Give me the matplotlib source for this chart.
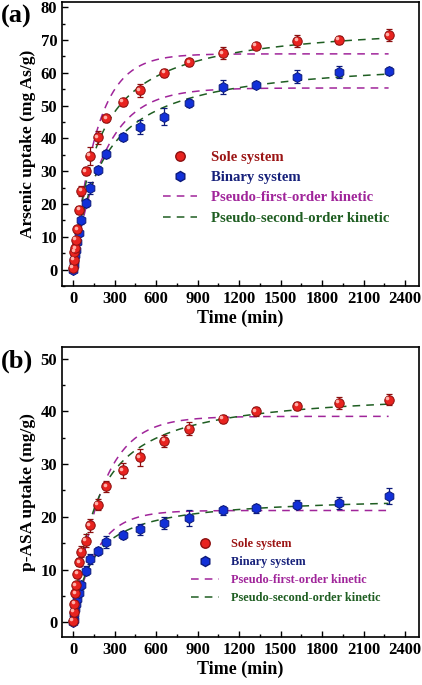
import numpy as np
import matplotlib
matplotlib.use("Agg")
import matplotlib.pyplot as plt
from matplotlib.lines import Line2D
from matplotlib.ticker import MultipleLocator, AutoMinorLocator
import matplotlib.transforms as mtransforms

plt.rcParams['font.family'] = ['Liberation Serif', 'DejaVu Serif']
plt.rcParams['font.weight'] = 'bold'

# sampling times (min)
time_min = [0, 5, 10, 15, 20, 30, 45, 60, 90, 120, 180, 240, 360, 480, 660, 840,
            1080, 1320, 1620, 1920, 2280]

# (a) arsenic uptake (mg As/g)
as_sole = [0.5, 3.0, 5.4, 6.5, 9.0, 12.3, 18.3, 24.0, 30.0, 34.6, 40.3, 46.1, 51.1,
           54.7, 60.0, 63.2, 66.0, 68.2, 69.8, 70.0, 71.5]
as_sole_err = [0.5, 0.6, 0.8, 0.8, 1.0, 1.0, 1.2, 1.5, 1.2, 2.8, 2.0, 1.0, 1.2,
               2.0, 1.2, 1.0, 1.8, 1.0, 1.8, 1.2, 1.8]
as_bin = [0.0, 1.5, 3.0, 4.5, 6.0, 8.5, 11.2, 15.0, 20.3, 24.9, 30.5, 35.3, 40.4,
          43.5, 46.6, 50.9, 55.7, 56.4, 58.8, 60.2, 60.5]
as_bin_err = [0.4, 0.5, 0.5, 0.6, 0.6, 0.8, 1.0, 1.0, 1.2, 1.8, 1.2, 1.2, 1.2,
              2.0, 2.6, 1.2, 2.0, 1.0, 2.0, 1.8, 1.2]

# (b) p-ASA uptake (mg/g)
pasa_sole = [0.3, 2.0, 3.5, 5.5, 7.0, 9.2, 11.4, 13.4, 15.5, 18.4, 22.3, 25.8, 28.8,
             31.3, 34.4, 36.7, 38.6, 40.0, 41.0, 41.6, 42.2]
pasa_sole_err = [0.3, 0.4, 0.5, 0.6, 0.6, 0.8, 0.8, 1.0, 1.2, 1.2, 1.0, 1.0, 1.5,
                 1.6, 1.2, 1.2, 0.8, 0.8, 0.8, 1.2, 1.0]
pasa_bin = [0.0, 0.5, 1.5, 2.5, 3.5, 4.5, 5.5, 7.0, 9.8, 12.0, 13.5, 15.2, 16.6,
            17.6, 18.8, 19.7, 21.2, 21.6, 22.3, 22.6, 23.9]
pasa_bin_err = [0.3, 0.3, 0.4, 0.4, 0.5, 0.5, 0.6, 0.6, 0.8, 1.0, 0.8, 1.2, 0.8,
                1.0, 1.2, 1.5, 0.8, 0.8, 0.8, 1.2, 1.5]

# kinetic fit parameters: (qe, k1) for PFO, (qe, k2) for PSO
pfo_a_sole = (65.8, 0.0060)
pso_a_sole = (76.0, 7.55e-5)
pfo_a_bin = (55.4, 0.0045)
pso_a_bin = (65.0, 7.5e-5)
pfo_b_sole = (39.05, 0.0050)
pso_b_sole = (44.3, 1.40e-4)
pfo_b_bin = (21.2, 0.0060)
pso_b_bin = (24.0, 2.85e-4)

legend_labels = ["Sole system", "Binary system", "Pseudo-first-order kinetic",
                 "Pseudo-second-order kinetic"]

RED = "#e8231f"
RED_DARK = "#8b0f0f"
BLUE = "#1230d8"
BLUE_DARK = "#0c1a7a"
PURPLE = "#a0259a"
GREEN = "#1f5e22"
LABEL_COLORS = ["#9b1414", "#16207a", PURPLE, GREEN]


def pfo(t, qe, k):
    return qe * (1 - np.exp(-k * t))


def pso(t, qe, k):
    return qe * qe * k * t / (1 + qe * k * t)


def draw_panel(ax, sole, sole_err, binary, binary_err, fits, ylim, yticks, ylabel,
               leg_anchor, leg_fs, leg_space):
    t = np.array(time_min, dtype=float)
    tt = np.linspace(0, time_min[-1], 400)

    for (qe, k), f, c in zip(fits, [pfo, pso, pfo, pso], [PURPLE, GREEN, PURPLE, GREEN]):
        ax.plot(tt, f(tt, qe, k), ls=(0, (5, 4)), color=c, lw=1.1, zorder=2)

    ax.errorbar(t, binary, yerr=binary_err, fmt='none', ecolor=BLUE_DARK, elinewidth=0.9,
                capsize=2.5, capthick=0.9, zorder=3)
    ax.plot(t, binary, 'h', ms=7.2, mfc=BLUE, mec=BLUE_DARK, mew=0.7, ls='none', zorder=4)

    ax.errorbar(t, sole, yerr=sole_err, fmt='none', ecolor=RED_DARK, elinewidth=0.9,
                capsize=2.5, capthick=0.9, zorder=5)
    ax.plot(t, sole, 'o', ms=6.8, mfc=RED, mec=RED_DARK, mew=0.7, ls='none', zorder=6)
    hl = mtransforms.offset_copy(ax.transData, fig=ax.figure, x=-1.2, y=1.2, units='points')
    ax.plot(t, sole, 'o', ms=2.6, mfc="#ffb0a8", mec='none', ls='none', zorder=7,
            transform=hl)

    ax.set_xlim(-80, 2500)
    ax.set_ylim(*ylim)
    ax.xaxis.set_major_locator(MultipleLocator(300))
    ax.xaxis.set_minor_locator(AutoMinorLocator(2))
    ax.set_yticks(yticks)
    ax.yaxis.set_minor_locator(AutoMinorLocator(2))
    ax.tick_params(which='both', direction='in', labelsize=12, width=1.0)
    ax.tick_params(which='major', length=4)
    ax.tick_params(which='minor', length=2.2)
    for sp in ax.spines.values():
        sp.set_linewidth(1.2)
    ax.set_xlabel("Time (min)", fontsize=13, fontweight='bold', labelpad=2)
    ax.set_ylabel(ylabel, fontsize=12.5, fontweight='bold', labelpad=3)

    handles = [
        Line2D([], [], marker='o', ms=6.8, mfc=RED, mec=RED_DARK, ls='none'),
        Line2D([], [], marker='h', ms=7.2, mfc=BLUE, mec=BLUE_DARK, ls='none'),
        Line2D([], [], ls=(0, (5, 4)), color=PURPLE, lw=1.1),
        Line2D([], [], ls=(0, (5, 4)), color=GREEN, lw=1.1),
    ]
    ax.legend(handles, legend_labels, loc='upper left', bbox_to_anchor=leg_anchor,
              frameon=False, labelcolor=LABEL_COLORS,
              handlelength=2.3, handletextpad=1.0, labelspacing=leg_space,
              prop={'weight': 'bold', 'size': leg_fs})


fig = plt.figure(figsize=(4.22, 6.85), dpi=100)
ax_a = fig.add_axes([0.147, 0.5825, 0.846, 0.414])
ax_b = fig.add_axes([0.147, 0.07, 0.846, 0.4234])

draw_panel(ax_a, as_sole, as_sole_err, as_bin, as_bin_err,
           [pfo_a_sole, pso_a_sole, pfo_a_bin, pso_a_bin],
           (-5, 81.5), range(0, 81, 10), "Arsenic uptake (mg As/g)", (0.245, 0.525), 10.6, 0.48)
draw_panel(ax_b, pasa_sole, pasa_sole_err, pasa_bin, pasa_bin_err,
           [pfo_b_sole, pso_b_sole, pfo_b_bin, pso_b_bin],
           (-2.8, 52.2), range(0, 51, 10), "p-ASA uptake (mg/g)", (0.33, 0.38), 8.8, 0.5)

fig.text(0.002, 0.993, "(a)", fontsize=19, fontweight='bold', va='top', ha='left')
fig.text(0.002, 0.49, "(b)", fontsize=19, fontweight='bold', va='top', ha='left')

fig.savefig("out.png", dpi=100)
